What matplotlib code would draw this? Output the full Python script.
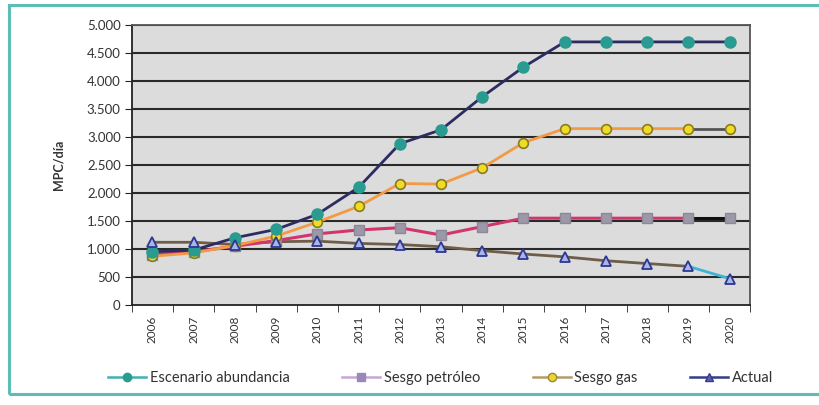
import matplotlib
matplotlib.use("Agg")
import matplotlib.pyplot as plt
from matplotlib.lines import Line2D
from matplotlib.patches import Rectangle
from matplotlib.ticker import FuncFormatter, FixedLocator

plt.rcParams['font.family'] = ['Lato', 'DejaVu Sans']

years = ['2006', '2007', '2008', '2009', '2010', '2011', '2012', '2013',
         '2014', '2015', '2016', '2017', '2018', '2019', '2020']
abundancia = [950, 980, 1200, 1350, 1620, 2100, 2880, 3130, 3720, 4250,
              4700, 4700, 4700, 4700, 4700]
petroleo = [900, 950, 1050, 1150, 1270, 1340, 1380, 1250, 1400, 1550,
            1550, 1550, 1550, 1550, 1550]
gas = [870, 930, 1060, 1230, 1480, 1760, 2170, 2160, 2450, 2900,
       3150, 3150, 3150, 3150, 3150]
actual = [1120, 1120, 1080, 1130, 1140, 1100, 1080, 1040, 970, 910,
          860, 790, 740, 690, 470]
labels = ['Escenario abundancia', 'Sesgo petróleo', 'Sesgo gas', 'Actual']

fig = plt.figure(figsize=(8.19, 4.05), dpi=100)
fig.patch.set_facecolor('white')
fig.add_artist(Rectangle((0.011, 0.027), 1.2, 0.96, transform=fig.transFigure,
                         fill=False, edgecolor='#5cbdb7', linewidth=2.2))

ax = fig.add_axes([0.161, 0.247, 0.755, 0.691])
ax.set_facecolor('#dcdcdc')
x = list(range(len(years)))

# gridlines
for v in range(500, 5001, 500):
    ax.axhline(v, color='#2a2a2a', lw=1.5, zorder=1)

# Actual (drawn first, under others)
ax.plot(x[:-1], actual[:-1], color='#6e5d48', lw=2, zorder=2)
ax.plot(x[-2:], actual[-2:], color='#3cb4d2', lw=2, zorder=2)
ax.plot(x, actual, ls='none', marker='^', ms=6.5, mfc='#a9b4e8', mec='#2e3790',
        mew=1.3, zorder=6)

# Petroleo
ax.plot(x[:-1], petroleo[:-1], color='#d2356e', lw=2.2, zorder=3)
ax.plot(x[-2:], petroleo[-2:], color='#111111', lw=2.2, zorder=3)
ax.plot(x, petroleo, ls='none', marker='s', ms=7, mfc='#9c98a8', mec='#8c8898',
        zorder=5)

# Gas
ax.plot(x[:-1], gas[:-1], color='#f39a45', lw=2, zorder=3)
ax.plot(x[-2:], gas[-2:], color='#555555', lw=2, zorder=3)
ax.plot(x, gas, ls='none', marker='o', ms=7, mfc='#eedd22', mec='#8a7a22',
        mew=1.2, zorder=5)

# Abundancia
ax.plot(x, abundancia, color='#2c2c62', lw=2, zorder=4)
ax.plot(x, abundancia, ls='none', marker='o', ms=8, mfc='#2a9b90', mec='#2a9b90',
        zorder=5)

ax.set_xlim(-0.5, len(years) - 0.5)
ax.set_ylim(0, 5000)
ax.yaxis.set_major_locator(FixedLocator(list(range(0, 5001, 500))))
ax.yaxis.set_major_formatter(FuncFormatter(lambda v, p: f"{int(v):,}".replace(',', '.')))
ax.set_xticks(x)
ax.set_xticklabels(years, rotation=90, fontsize=8.5, color='#333333')
ax.set_xticks([i - 0.5 for i in range(len(years) + 1)], minor=True)
ax.tick_params(axis='x', which='major', length=0, pad=8)
ax.tick_params(axis='x', which='minor', length=5, direction='out', color='#222222')
ax.tick_params(axis='y', length=5, direction='out', labelsize=9.5,
               color='#222222', labelcolor='#333333', pad=3)
for s in ['left', 'bottom']:
    ax.spines[s].set_color('#222222')
    ax.spines[s].set_linewidth(1.3)
for s in ['top', 'right']:
    ax.spines[s].set_color('#555555')
    ax.spines[s].set_linewidth(1.3)
ax.set_ylabel('MPC/día', fontsize=9, fontweight='bold', color='#333333', labelpad=16)

handles = [
    Line2D([], [], color='#3fb1b1', lw=1.8, marker='o', ms=6, mfc='#2a9b90', mec='#2a9b90'),
    Line2D([], [], color='#c6a6d6', lw=1.8, marker='s', ms=6, mfc='#9a88bb', mec='#9a88bb'),
    Line2D([], [], color='#b79a6a', lw=1.8, marker='o', ms=6, mfc='#e9d635', mec='#9a8a30'),
    Line2D([], [], color='#383a8a', lw=1.8, marker='^', ms=6, mfc='#5a60b0', mec='#383a8a'),
]
fig.legend(handles, labels, loc='center', bbox_to_anchor=(0.538, 0.067), ncol=4,
           frameon=False, fontsize=10.5, columnspacing=3.6, handlelength=2.6,
           handletextpad=0.25, labelcolor='#333333')

fig.savefig('out.png', dpi=100)
